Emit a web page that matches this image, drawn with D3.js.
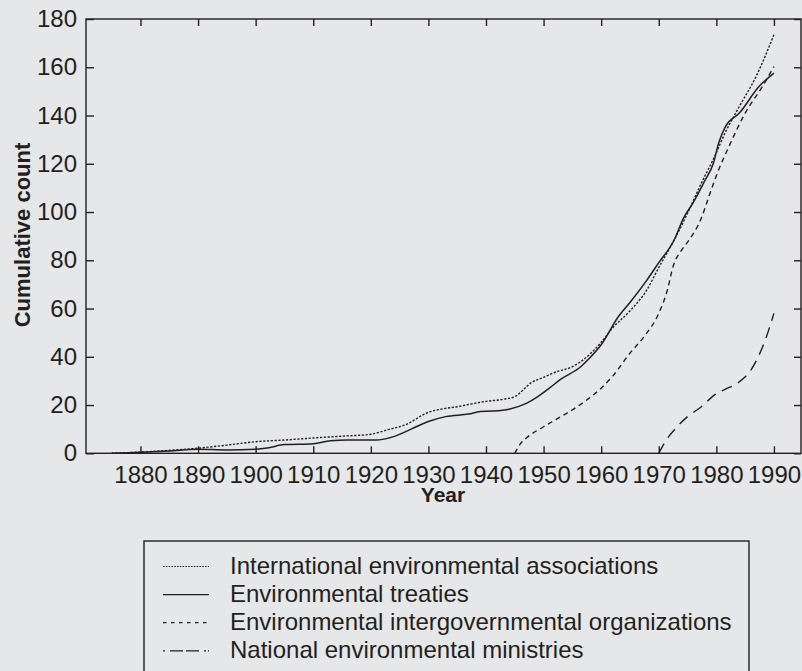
<!DOCTYPE html>
<html>
<head>
<meta charset="utf-8">
<style>
  html, body { margin: 0; padding: 0; background: #e6e7e8; }
  svg { display: block; font-family: "Liberation Sans", Arial, sans-serif; }
</style>
</head>
<body>
<svg></svg>
<script src="https://cdn.jsdelivr.net/npm/d3@7"></script>
<script>
  const width = 802;
  const height = 671;

  // data: [year, cumulative count]
  const associations = [
    [1875, 0], [1880, 0.5], [1885, 1.2], [1890, 2.1], [1895, 3.4], [1900, 4.8],
    [1905, 5.5], [1911, 6.5], [1915, 7.1], [1920, 7.9], [1923, 9.8], [1926, 11.8],
    [1930, 17], [1932, 18.2], [1935, 19.3], [1938, 20.7], [1940, 21.5], [1943, 22.4],
    [1945, 23.5], [1948, 29.5], [1950, 31.5], [1952, 33.6], [1955, 35.9], [1958, 41],
    [1960, 46], [1962, 52], [1965, 59], [1968, 68], [1970, 77], [1972.7, 88.5],
    [1975, 99.5], [1977.4, 112], [1979.7, 123], [1981.5, 132.7], [1984, 143.8],
    [1986.9, 156.2], [1990, 173.5]
  ];
  const treaties = [
    [1875, 0], [1880, 0.4], [1885, 1.0], [1890, 1.7], [1895, 1.4], [1900, 1.7],
    [1902, 2.2], [1905, 3.6], [1910, 4.0], [1913, 5.2], [1916, 5.5], [1921, 5.5],
    [1923.5, 6.6], [1927, 10], [1930, 13.2], [1933, 15.2], [1937, 16.3], [1939, 17.3],
    [1941, 17.5], [1944, 18.3], [1947, 20.7], [1949, 23.5], [1951, 27], [1953, 30.7],
    [1956.5, 36], [1958, 39.5], [1960, 45], [1963, 56.7], [1965, 62.5], [1968, 72],
    [1970, 79], [1972.7, 88.5], [1974.3, 97.5], [1976, 104], [1978, 113],
    [1979.5, 120.3], [1980.4, 128.6], [1981.6, 135.5], [1984, 141], [1987.4, 152],
    [1990, 157.6]
  ];
  const igos = [
    [1945, 0], [1946, 4], [1947.3, 6.9], [1950, 11], [1952, 13.8], [1955, 18],
    [1958, 23], [1960, 27], [1962, 32], [1965, 41.5], [1967.5, 48.5], [1970, 58],
    [1971.5, 67.7], [1972.5, 77.5], [1974, 84.3], [1975, 87.5], [1977.4, 97.5],
    [1978.7, 106.4], [1980.4, 117.5], [1982.2, 127.2], [1985, 141], [1988, 152],
    [1990, 160.3]
  ];
  const ministries = [
    [1970, 0], [1971.3, 5.5], [1973, 10.5], [1975, 15.2], [1977.4, 19.3],
    [1979.7, 24.2], [1981.5, 26.5], [1983.8, 29.3], [1986, 34.5], [1988.5, 47],
    [1990, 58]
  ];

  const seriesNames = [
    "International environmental associations",
    "Environmental treaties",
    "Environmental intergovernmental organizations",
    "National environmental ministries"
  ];
  const seriesData = [associations, treaties, igos, ministries];
  const dashes = ["2.2,1.6", null, "5,4", "11,7"];
  const legendDashes = ["1.6,1.2", null, "3.5,4.5", "2,5,13,3,13,5,2"];

  const xTicks = [1880, 1890, 1900, 1910, 1920, 1930, 1940, 1950, 1960, 1970, 1980, 1990];
  const yTicks = [0, 20, 40, 60, 80, 100, 120, 140, 160, 180];

  const ink = "#231f20";
  const plotL = 86, plotR = 801, plotT = 19, plotB = 453.3;

  const svg = d3.select("svg").attr("width", width).attr("height", height);

  const x = d3.scaleLinear().domain([1870.54, 1994.7]).range([plotL, plotR]);
  const y = d3.scaleLinear().domain([0, 180]).range([plotB, plotT]);

  // frame
  svg.append("rect")
    .attr("x", plotL).attr("y", plotT)
    .attr("width", plotR - plotL).attr("height", plotB - plotT)
    .attr("fill", "none").attr("stroke", ink).attr("stroke-width", 1.4);

  // axes with inward ticks
  const bottomAxis = svg.append("g").attr("transform", `translate(0,${plotB})`)
    .call(d3.axisBottom(x).tickValues(xTicks).tickFormat(d3.format("d")).tickSizeInner(-7).tickSizeOuter(0));
  bottomAxis.selectAll("text").attr("y", 29.5).attr("dy", 0);
  const topAxis = svg.append("g").attr("transform", `translate(0,${plotT})`)
    .call(d3.axisTop(x).tickValues(xTicks).tickFormat("").tickSizeInner(-7).tickSizeOuter(0));
  const leftAxis = svg.append("g").attr("transform", `translate(${plotL},0)`)
    .call(d3.axisLeft(y).tickValues(yTicks).tickSizeInner(-8).tickSizeOuter(0).tickPadding(9));
  const rightAxis = svg.append("g").attr("transform", `translate(${plotR},0)`)
    .call(d3.axisRight(y).tickValues(yTicks).tickFormat("").tickSizeInner(-7).tickSizeOuter(0));

  [bottomAxis, topAxis, leftAxis, rightAxis].forEach(g => {
    g.select(".domain").remove();
    g.selectAll("line").attr("stroke", ink).attr("stroke-width", 1.4);
    g.selectAll("text").attr("fill", ink).style("font-size", "24px")
      .style("font-family", "'Liberation Sans', Arial, sans-serif");
  });

  // axis titles
  svg.append("text")
    .attr("x", 443).attr("y", 502)
    .attr("text-anchor", "middle").attr("fill", ink)
    .style("font-size", "21px").style("font-weight", "bold")
    .text("Year");
  svg.append("text")
    .attr("transform", "translate(30,235) rotate(-90)")
    .attr("text-anchor", "middle").attr("fill", ink)
    .style("font-size", "22px").style("font-weight", "bold")
    .text("Cumulative count");

  // lines
  const line = d3.line()
    .x(d => x(d[0])).y(d => y(d[1]))
    .curve(d3.curveMonotoneX);

  svg.append("g").selectAll("path")
    .data(seriesData)
    .join("path")
    .attr("d", line)
    .attr("fill", "none")
    .attr("stroke", ink)
    .attr("stroke-width", (d, i) => i === 1 ? 1.5 : 1.4)
    .attr("stroke-dasharray", (d, i) => dashes[i]);

  // legend
  const legend = svg.append("g");
  legend.append("rect")
    .attr("x", 144).attr("y", 541)
    .attr("width", 605).attr("height", 140)
    .attr("fill", "none").attr("stroke", ink).attr("stroke-width", 1.4);

  const rows = legend.selectAll("g.row")
    .data(seriesNames)
    .join("g")
    .attr("class", "row")
    .attr("transform", (d, i) => `translate(0,${573.5 + i * 28.1})`);

  rows.append("line")
    .attr("x1", 163).attr("x2", 209)
    .attr("y1", -7).attr("y2", -7)
    .attr("stroke", ink)
    .attr("stroke-width", (d, i) => i === 0 ? 1 : 1.3)
    .attr("stroke-dasharray", (d, i) => legendDashes[i]);

  rows.append("text")
    .attr("x", 230).attr("y", 0)
    .attr("fill", ink)
    .style("font-size", "24px")
    .text(d => d);
</script>
</body>
</html>
